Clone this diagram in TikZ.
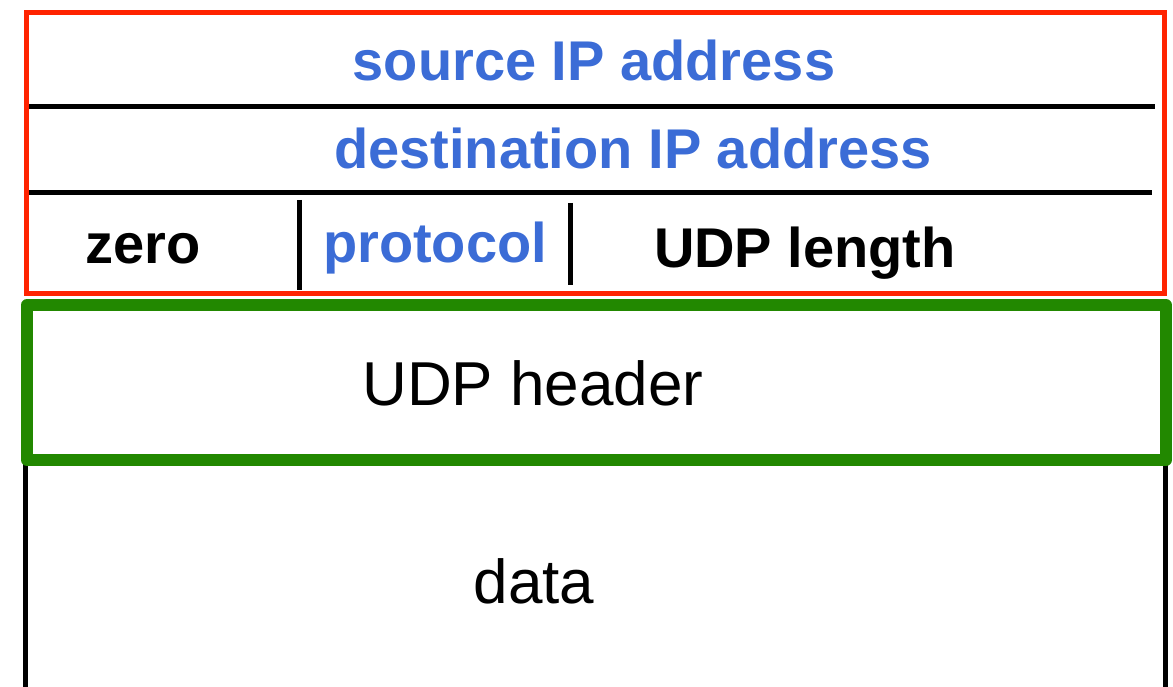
\documentclass[tikz,border=0pt]{standalone}
\usepackage{fontspec}
\setmainfont{Liberation Sans}
\definecolor{fieldblue}{RGB}{59,108,214}
\definecolor{boxred}{RGB}{255,35,0}
\definecolor{boxgreen}{RGB}{34,136,0}
\begin{document}
\begin{tikzpicture}[x=1pt,y=-1pt,
  rule/.style={line width=5pt,draw=black},
  boldlbl/.style={anchor=base,inner sep=0pt,font=\fontsize{56}{60}\selectfont\bfseries},
  bluelbl/.style={boldlbl,text=fieldblue},
  plainlbl/.style={anchor=base,inner sep=0pt,font=\fontsize{62}{66}\selectfont}]
\useasboundingbox (0,0) rectangle (1173,687);
% data box (open at bottom)
\draw[rule] (25,458) -- (25,700);
\draw[rule] (1165,458) -- (1165,700);
% separators in pseudo header
\draw[rule] (28,107) -- (1155,107);
\draw[rule] (26,193) -- (1152,193);
\draw[rule] (299,200) -- (299,290);
\draw[rule] (570,203) -- (570,285);
% pseudo header frame
\draw[boxred,line width=5pt] (26,13) rectangle (1164,293);
% UDP header frame
\draw[boxgreen,line width=12pt,line join=round] (27,305) rectangle (1166,460);
% labels
\node[bluelbl] (src) at (594,81) {source IP address};
\node[bluelbl] (dst) at (633,169) {destination IP address};
\node[boldlbl] (zero) at (143,263) {zero};
\node[bluelbl] (proto) at (435,262) {protocol};
\node[boldlbl] (len) at (805,268) {UDP length};
\node[plainlbl] (hdr) at (533,405) {UDP header};
\node[plainlbl] (data) at (534,603) {data};
\end{tikzpicture}
\end{document}
